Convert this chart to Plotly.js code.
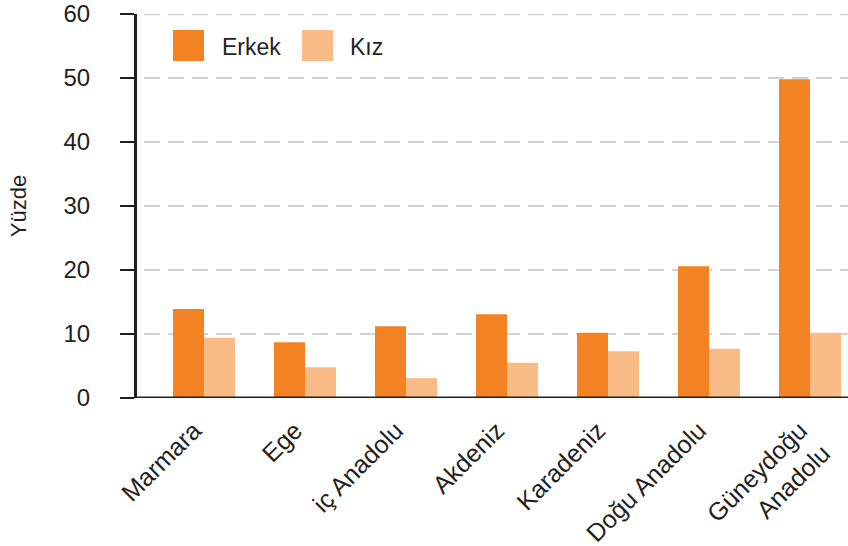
<!DOCTYPE html>
<html>
<head>
<meta charset="utf-8">
<script src="https://cdn.plot.ly/plotly-3.0.1.min.js"></script>
<style>html,body{margin:0;padding:0;background:#fff;}#chart{width:848px;height:546px;}</style>
</head>
<body>
<div id="chart"></div>
<script>
const categories = ["Marmara", "Ege", "iç Anadolu", "Akdeniz", "Karadeniz", "Doğu Anadolu", "Güneydoğu<br>Anadolu"];
const erkek = [13.9, 8.7, 11.2, 13.1, 10.2, 20.6, 49.8];
const kiz = [9.4, 4.8, 3.1, 5.5, 7.3, 7.7, 10.2];
const seriesNames = ["Erkek", "Kız"];
const yTicks = [0, 10, 20, 30, 40, 50, 60];

const C_ERKEK = "#f38322";
const C_KIZ = "#f9bc87";
const DARK = "#231f20";
const GRID = "#d3d3d3";
const FONT = "Liberation Sans, Arial, sans-serif";

const idx = categories.map((c, i) => i);

const traces = [
  {type: "bar", name: seriesNames[0], x: idx, y: erkek, marker: {color: C_ERKEK}, showlegend: false, hoverinfo: "y"},
  {type: "bar", name: seriesNames[1], x: idx, y: kiz, marker: {color: C_KIZ}, showlegend: false, hoverinfo: "y"}
];

// plot area: x 135..848, y 14..398
const L = 135, T = 14, W = 713, H = 384;
const px = v => (v - L) / W;
const py = v => (T + H - v) / H;
const yMax = yTicks[yTicks.length - 1];

const layout = {
  width: 848, height: 546,
  margin: {l: L, r: 0, t: T, b: 546 - T - H, pad: 0},
  paper_bgcolor: "#fff", plot_bgcolor: "#fff",
  font: {family: FONT, color: DARK, size: 22},
  barmode: "group", bargap: 0.386, bargroupgap: 0,
  xaxis: {
    domain: [9 / W, 1],
    range: [-60 / 101, 644 / 101],
    tickmode: "array", tickvals: idx, ticktext: categories,
    tickangle: -45, ticks: "", showline: false, showgrid: false, zeroline: false,
    tickfont: {family: FONT, size: 25, color: DARK},
    ticklabelstandoff: 12, ticklabelshift: -10,
    fixedrange: true
  },
  yaxis: {
    anchor: "free", position: 0,
    range: [0, yMax], tickmode: "array", tickvals: yTicks,
    ticks: "outside", ticklen: 14, tickwidth: 2.5, tickcolor: DARK,
    showline: true, linewidth: 2.5, linecolor: DARK,
    showgrid: true, gridcolor: GRID, gridwidth: 2.5, griddash: "16px,8px",
    zeroline: false,
    tickfont: {family: FONT, size: 24, color: DARK},
    ticklabelstandoff: 25,
    title: {text: "Yüzde", font: {family: FONT, size: 22, color: DARK}, standoff: 30},
    fixedrange: true
  },
  shapes: [
    {type: "line", xref: "paper", yref: "y", x0: 9 / W, x1: 1, y0: yMax, y1: yMax, layer: "below", line: {color: GRID, width: 2.5, dash: "16px,8px"}},
    {type: "line", xref: "paper", yref: "y", x0: 0, x1: 1, y0: 0, y1: 0, line: {color: DARK, width: 3}},
    {type: "rect", xref: "paper", yref: "paper", x0: px(173), x1: px(204), y0: py(61), y1: py(30), fillcolor: C_ERKEK, line: {width: 0}},
    {type: "rect", xref: "paper", yref: "paper", x0: px(302), x1: px(333), y0: py(61), y1: py(30), fillcolor: C_KIZ, line: {width: 0}}
  ],
  annotations: [
    {xref: "paper", yref: "paper", x: px(220), y: py(47), xanchor: "left", yanchor: "middle", text: seriesNames[0], showarrow: false, font: {family: FONT, size: 23, color: DARK}},
    {xref: "paper", yref: "paper", x: px(348), y: py(47), xanchor: "left", yanchor: "middle", text: seriesNames[1], showarrow: false, font: {family: FONT, size: 23, color: DARK}}
  ]
};

Plotly.newPlot("chart", traces, layout, {displayModeBar: false, staticPlot: true});
</script>
</body>
</html>
